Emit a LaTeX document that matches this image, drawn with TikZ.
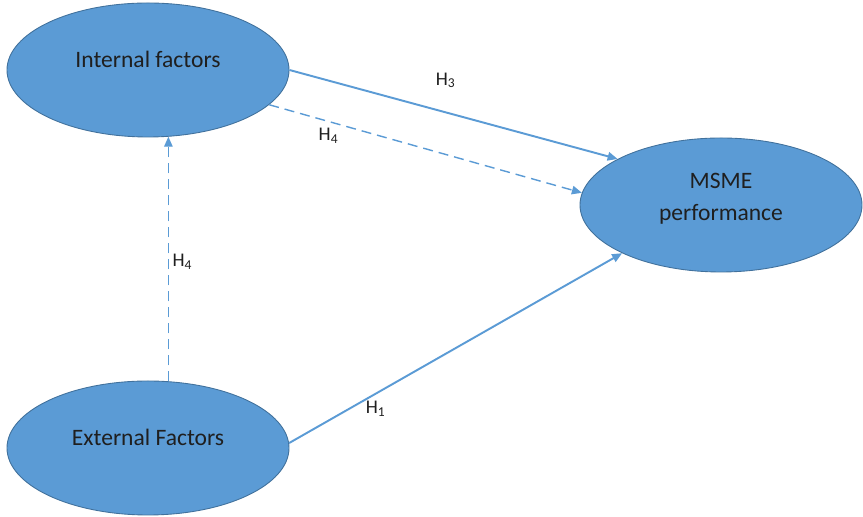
\documentclass[tikz,border=0pt]{standalone}
\usepackage{fontspec}
\setmainfont{Carlito}
\usepackage{xcolor}
\usepackage{tikz}
\usetikzlibrary{arrows.meta, shapes.geometric}

\definecolor{ovalfill}{HTML}{5B9BD5}
\definecolor{ovalline}{HTML}{41719C}
\definecolor{linkblue}{HTML}{5B9BD5}

\tikzset{
	oval/.style={ellipse, draw=ovalline, line width=0.5pt, fill=ovalfill, minimum width=5.64cm, minimum height=2.68cm, inner sep=0pt},
	ovaltext/.style={font=\fontsize{13.4}{18.2}\selectfont, text=black!88, align=center},
	link/.style={draw=linkblue, line width=1.1pt, -{Triangle[length=2mm,width=1.7mm]}},
	dashlink/.style={draw=linkblue, line width=0.8pt, dash pattern=on 2mm off 1.2mm, -{Triangle[length=2mm,width=1.7mm]}},
	hlabel/.style={font=\fontsize{11}{13}\selectfont, text=black!88}
}

\begin{document}
\begin{tikzpicture}
	\useasboundingbox (0,0) rectangle (17.26,10.34);
	% Ellipses and their texts:
	\node[oval](int) at (2.96, 8.94){};
	\node[oval](ext) at (2.96, 1.38){};
	\node[oval](msme) at (14.42, 6.24){};
	\node[ovaltext](intname) at ([yshift=0.22cm]int.center){Internal factors};
	\node[ovaltext](extname) at ([yshift=0.22cm]ext.center){External Factors};
	\node[ovaltext](msmename) at ([yshift=0.12cm]msme.center){MSME\\performance};
	% Arrows:
	\draw[link] (int.east) -- (msme.156) node[hlabel, pos=0.476, yshift=0.64cm](h3){H\textsubscript{3}};
	\draw[dashlink] (int.-16) -- (msme.175) node[hlabel, pos=0.19, yshift=-0.29cm](h4a){H\textsubscript{4}};
	\draw[dashlink] (ext.73) -- (int.-73) node[hlabel, pos=0.49, xshift=0.28cm](h4b){H\textsubscript{4}};
	\draw[link] (ext.2) -- (msme.206) node[hlabel, pos=0.26, yshift=-0.31cm](h1){H\textsubscript{1}};
\end{tikzpicture}
\end{document}
